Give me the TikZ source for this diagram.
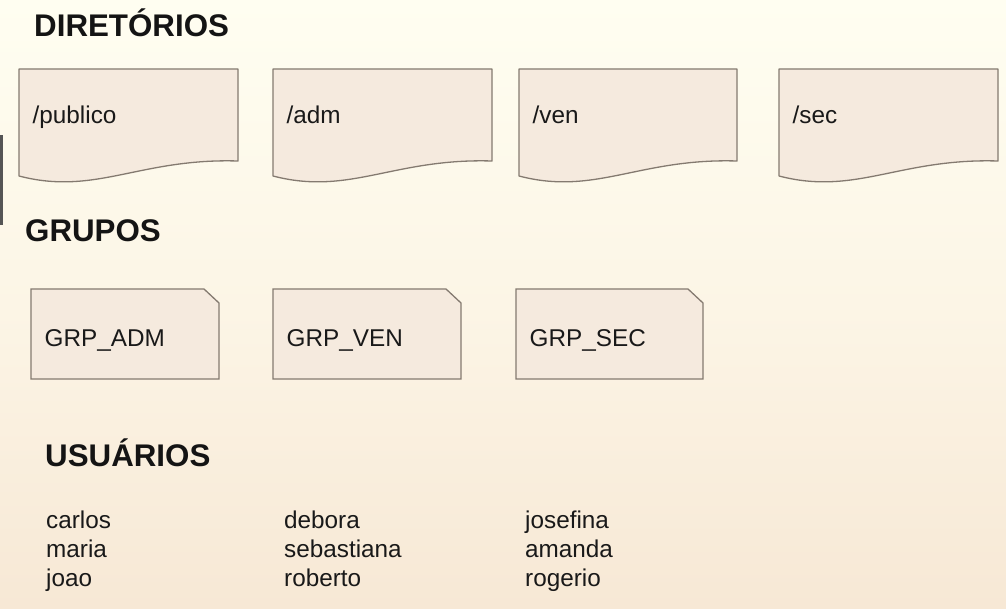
\documentclass[tikz,border=0pt]{standalone}
\usepackage{fontspec}
\setmainfont{Liberation Sans}
\definecolor{bgtop}{RGB}{255,254,241}
\definecolor{bgbot}{RGB}{247,232,213}
\definecolor{shapefill}{RGB}{245,234,222}
\definecolor{shapeline}{RGB}{132,122,112}
\definecolor{barcol}{RGB}{85,85,85}
\tikzset{
  docstyle/.style={draw=shapeline, fill=shapefill, line width=1.3pt, line join=round},
  grpstyle/.style={draw=shapeline, fill=shapefill, line width=1.3pt, line join=miter},
  lbl/.style={inner sep=0pt, anchor=base west, font=\fontsize{24.3}{28}\selectfont, text=black!90},
  heading/.style={inner sep=0pt, anchor=base west, font=\fontsize{31.3}{36}\selectfont\bfseries, text=black!92},
}
\begin{document}
\begin{tikzpicture}[x=1pt,y=-1pt]
\useasboundingbox (0,0) rectangle (1006,609);
\shade[top color=bgtop, bottom color=bgbot, middle color=bgtop!60!bgbot] (0,0) rectangle (1006,609);
\fill[barcol] (0,135) rectangle (2.5,225);

% headings
\node[heading] (hdir) at (34,37) {DIRETÓRIOS};
\node[heading] (hgrp) at (25,242) {GRUPOS};
\node[heading] (husr) at (45,466) {USUÁRIOS};

% directories (document shapes)
\foreach \L/\R/\nm in {19/238/publico, 273/492/adm, 519/737/ven, 779/998/sec} {
  \pgfmathsetmacro\W{\R-\L}
  \draw[docstyle] (\L,176) -- (\L,69) -- (\R,69) -- (\R,161)
     .. controls (\L+0.55*\W,158) and (\L+0.35*\W,196) .. (\L,176) -- cycle;
  \node[lbl] (\nm) at (\L+13.5,124) {/\nm};
}

% groups (cut-corner cards)
\foreach \L/\R/\nm in {31/219/ADM, 273/461/VEN, 516/703/SEC} {
  \draw[grpstyle] (\L,289) -- (\R-15,289) -- (\R,303) -- (\R,379) -- (\L,379) -- cycle;
  \node[lbl] (grp\nm) at (\L+13.5,346) {GRP\_\nm};
}

% users
\node[lbl] (carlos) at (46,528) {carlos};
\node[lbl] (maria) at (46,557) {maria};
\node[lbl] (joao) at (46,586) {joao};
\node[lbl] (debora) at (284,528) {debora};
\node[lbl] (sebastiana) at (284,557) {sebastiana};
\node[lbl] (roberto) at (284,586) {roberto};
\node[lbl] (josefina) at (525,528) {josefina};
\node[lbl] (amanda) at (525,557) {amanda};
\node[lbl] (rogerio) at (525,586) {rogerio};
\end{tikzpicture}
\end{document}
